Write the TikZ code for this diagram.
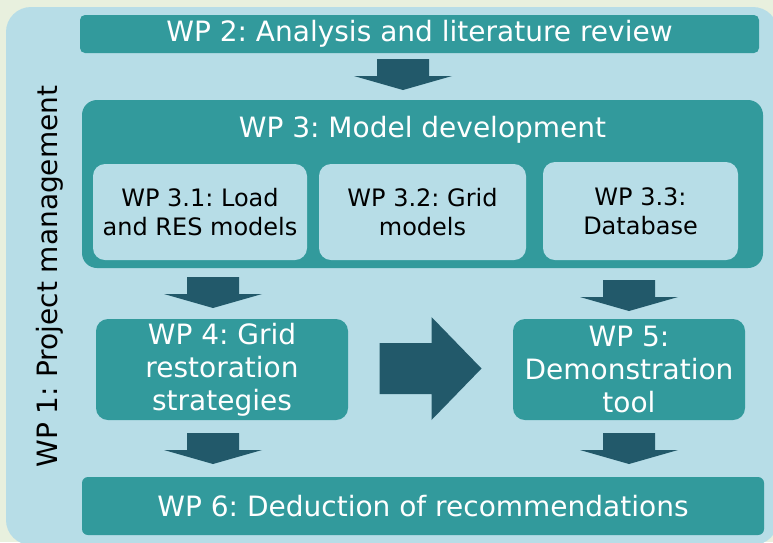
\documentclass[tikz,border=0pt]{standalone}
\usepackage{fontspec}
\setmainfont{DejaVu Sans}
\usetikzlibrary{positioning,calc}
\definecolor{wpBack}{HTML}{E8F0DE}
\definecolor{wpLight}{HTML}{B7DDE7}
\definecolor{wpTeal}{HTML}{329A9C}
\definecolor{wpDark}{HTML}{22596A}
\newcommand{\wpFont}{\fontsize{28}{33}\selectfont}
\newcommand{\subFont}{\fontsize{24}{29}\selectfont}
\frenchspacing
\tikzset{
	outerBox/.style={fill=wpLight, rounded corners=25pt, inner sep=0pt},
	wpBox/.style={fill=wpTeal, text=white, rounded corners=12pt, inner sep=0pt, font=\wpFont, align=center},
	subBox/.style={fill=wpLight, text=black, rounded corners=12pt, inner sep=0pt, font=\subFont, align=center},
	downArrow/.pic={\fill[wpDark] (-26,-15.5) -- (26,-15.5) -- (26,1.5) -- (49,1.5) -- (0,15.5) -- (-49,1.5) -- (-26,1.5) -- cycle;},
	rightArrow/.pic={\fill[wpDark] (-51,-25.5) -- (1,-25.5) -- (1,-51.5) -- (51,0) -- (1,51.5) -- (1,25.5) -- (-51,25.5) -- cycle;}
}

\begin{document}
\begin{tikzpicture}[x=1pt, y=-1pt]
	\fill[wpBack] (0,0) rectangle (773,542);
	\useasboundingbox (0,0) rectangle (773,542);
	\node[outerBox, minimum width=772pt, minimum height=538pt] (wp1) at (392,276) {};
	\node[rotate=90, inner sep=0pt, font=\wpFont] (wp1Label) at (50,276.5) {WP 1: Project management};
	%top
	\node[wpBox, rounded corners=5pt, minimum width=679pt, minimum height=38pt] (wp2) at (419.5,34) {WP 2: Analysis and literature review};
	\node[wpBox, rounded corners=15pt, minimum width=681pt, minimum height=168pt] (wp3) at (422.5,184) {};
	\node[inner sep=0pt, font=\wpFont, text=white] (wp3Title) at (422.5,130) {WP 3: Model development};
	\node[subBox, minimum width=214pt, minimum height=96pt] (wp31) at (200,212) {WP 3.1: Load\\and RES models};
	\node[subBox, minimum width=207pt, minimum height=96pt] (wp32) at (422.5,212) {WP 3.2: Grid\\models};
	\node[subBox, minimum width=195pt, minimum height=98pt] (wp33) at (640.5,211) {WP 3.3:\\Database};
	%middle
	\node[wpBox, minimum width=252pt, minimum height=101pt] (wp4) at (222,369.5) {WP 4: Grid\\restoration\\strategies};
	\node[wpBox, minimum width=232pt, minimum height=101pt] (wp5) at (629,369.5) {WP 5:\\Demonstration\\tool};
	%bottom
	\node[wpBox, rounded corners=6pt, minimum width=682pt, minimum height=58pt] (wp6) at (423,506) {WP 6: Deduction of recommendations};
	%arrows
	\pic at ($(wp2.south)!0.5!(wp3.north)+(-18,-2)$) {downArrow};
	\pic at ($(wp3.south -| wp4)!0.5!(wp4.north)+(-9,-1)$) {downArrow};
	\pic at ($(wp3.south -| wp5)!0.5!(wp5.north)+(0,2)$) {downArrow};
	\pic at ($(wp4.east)!0.5!(wp5.west)+(0,-1)$) {rightArrow};
	\pic at ($(wp4.south)!0.5!(wp6.north -| wp4)+(-9,0)$) {downArrow};
	\pic at ($(wp5.south)!0.5!(wp6.north -| wp5)$) {downArrow};
\end{tikzpicture}
\end{document}
